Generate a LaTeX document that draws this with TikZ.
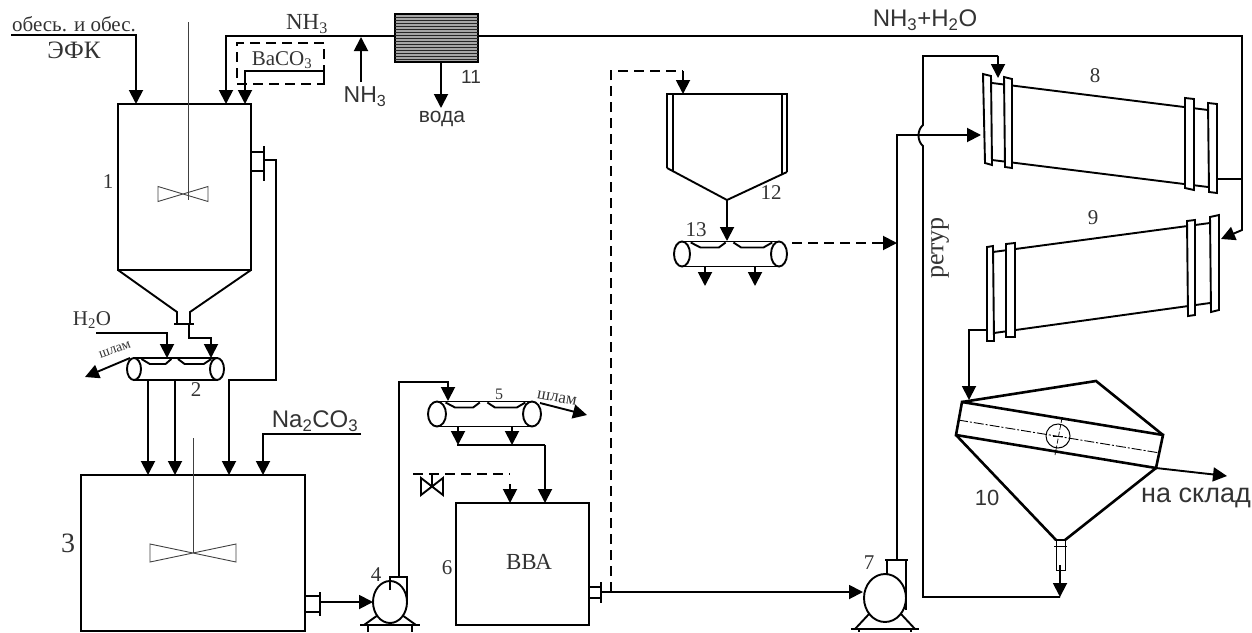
\documentclass[tikz,border=0pt]{standalone}
\usepackage{fontspec}
\setmainfont{Liberation Serif}
\setsansfont{Liberation Sans}
\usetikzlibrary{arrows.meta,shapes.geometric}

\begin{document}
\begin{tikzpicture}[x=1pt, y=-1pt, >={Triangle[length=14pt,width=14pt]},
    pipe/.style={line width=1.9pt},
    flow/.style={pipe,->},
    dashflow/.style={pipe,dash pattern=on 10pt off 6pt},
    thick line/.style={line width=2.6pt},
    vessel/.style={draw,rectangle,line width=2pt,inner sep=0pt,outer sep=0pt},
    drum/.style={draw,ellipse,line width=1.9pt,inner sep=0pt,outer sep=0pt,fill=white},
    blade/.style={line width=0.9pt,black!75},
    num/.style={font=\fontsize{21}{23}\selectfont,text=black!80,inner sep=0pt},
    snum/.style={font=\sffamily\fontsize{22}{24}\selectfont,text=black!80,inner sep=0pt},
    lab/.style={font=\fontsize{21}{23}\selectfont,text=black!80,inner sep=0pt},
    slab/.style={font=\sffamily\fontsize{24}{26}\selectfont,text=black!80,inner sep=0pt},
    slurry/.style={text=black!80,inner sep=0pt}]

    \useasboundingbox (0,0) rectangle (1252,632);

    % Vessels
    \node[vessel, minimum width=133pt, minimum height=166pt] (v1) at (184.5,187) {};
    \node[vessel, minimum width=224pt, minimum height=156pt] (v3) at (193,553) {};
    \node[vessel, minimum width=133pt, minimum height=122pt] (v6) at (522.5,564) {};
    \node[lab,font=\fontsize{23}{25}\selectfont] (bva) at (529,562) {ВВА};

    % Cone and neck of vessel 1
    \draw[pipe] (v1.south west) -- (177,312) -- (177,324);
    \draw[pipe] (v1.south east) -- (190,312) -- (190,324);
    \draw[pipe] (174,324) -- (194,324);

    % Stirrers
    \foreach \sx/\ya/\yb/\cx/\cy/\w/\h in {188/22/200/183/194/25/7.5, 193/438/553/193/553/43/9}
    {
        \draw[blade] (\sx,\ya) -- (\sx,\yb);
        \draw[blade] (\cx-\w,\cy-\h) -- (\cx+\w,\cy+\h) -- (\cx+\w,\cy-\h) -- (\cx-\w,\cy+\h) -- cycle;
    }

    % Washers
    \foreach \n/\xa/\xb/\yy/\rx/\ry in {w2/134/217/369/7/11, w5/437/532/414/9/12.5, w13/682/779/254/8/12.5}
    {
        \node[drum, minimum width=2*\rx pt, minimum height=2*\ry pt] (\n l) at (\xa,\yy) {};
        \node[drum, minimum width=2*\rx pt, minimum height=2*\ry pt] (\n r) at (\xb,\yy) {};
        \draw[pipe] (\n l.north) -- (\n r.north);
        \draw[pipe] (\n l.south) -- (\n r.south);
        \foreach \p/\q/\r/\s in {0.09/0.19/0.38/0.45, 0.53/0.61/0.84/0.93}
        \draw[pipe] ({\xa+\p*(\xb-\xa)},\yy-\ry+1) -- ({\xa+\q*(\xb-\xa)},\yy-\ry+6) -- ({\xa+\r*(\xb-\xa)},\yy-\ry+6) -- ({\xa+\s*(\xb-\xa)},\yy-\ry+1);
    }

    % Pumps
    \foreach \n/\px/\py/\rx/\ry/\base in {p4/390/602/17/21/625, p7/885/598/21/24/629}
    {
        \draw[pipe] (\px-\rx+5,\py+\ry-8) -- (\px-\rx-9,\base);
        \draw[pipe] (\px+\rx-5,\py+\ry-8) -- (\px+\rx+9,\base);
        \draw[thick line] (\px-\rx-13,\base) -- (\px+\rx+13,\base);
        \draw[pipe] (\px-\rx-5,\base) -- (\px-\rx-5,632);
        \draw[pipe] (\px+\rx+5,\base) -- (\px+\rx+5,632);
        \node[drum, minimum width=2*\rx pt, minimum height=2*\ry pt] (\n) at (\px,\py) {};
    }
    \draw[pipe] (390,590) -- (390,577) -- (407,577) -- (407,600);
    \draw[pipe] (887,575) -- (887,560);
    \draw[pipe] (906,610) -- (906,560);
    \draw[pipe] (885,560) -- (908,560);

    % Flanges
    \foreach \xa/\xb/\ya/\yb/\ta/\tb in {251/264/152/171/146/181, 305/320/596/612/592/616, 589/601/587/598/582/603}
    {
        \draw[pipe] (\xa,\ya) -- (\xb,\ya);
        \draw[pipe] (\xa,\yb) -- (\xb,\yb);
        \draw[pipe] (\xb,\ta) -- (\xb,\tb);
    }

    % Heat exchanger
    \node[vessel, minimum width=83pt, minimum height=48pt,fill=black!35] (hx) at (436.5,38) {};
    \foreach \yy in {17,20,...,59}
    \draw[line width=1pt,black!85] (395,\yy) -- (478,\yy);

    % Hopper 12
    \draw[pipe] (667,168) -- (667,94) -- (787,94) -- (787,172);
    \draw[pipe] (673,94) -- (673,172);
    \draw[pipe] (782,94) -- (782,175);
    \draw[pipe] (667,168) -- (727,200) -- (787,172);
    \coordinate (h12) at (727,200);

    % Dryers
    \draw[pipe] (992,83) -- (1208,110);
    \draw[pipe] (992,160) -- (1208,187);
    \draw[pipe] (993,252) -- (1210,223);
    \draw[pipe] (994,333) -- (1210,303);
    \foreach \xa/\ya/\xb/\yb/\xc/\yc/\xd/\yd in {
        983/74/991/76/992/165/985/163, 1004/77/1012/79/1012/168/1005/167,
        1185/98/1194/99/1194/190/1185/188, 1208/103/1217/104/1217/193/1209/192,
        987/247/993/246/994/341/987/341, 1006/244/1015/243/1015/337/1006/337,
        1187/221/1195/220/1195/315/1188/316, 1210/217/1219/215/1219/310/1211/312}
    \draw[pipe,fill=white] (\xa,\ya) -- (\xb,\yb) -- (\xc,\yc) -- (\xd,\yd) -- cycle;

    % Cooler 10
    \coordinate (c1) at (962,402);
    \coordinate (c2) at (1163,435);
    \coordinate (c3) at (1156,468);
    \coordinate (c4) at (956,435);
    \draw[thick line] (c1) -- (c2) -- (c3) -- (c4) -- cycle;
    \draw[thick line] (c1) -- (1096,381) -- (c2);
    \draw[thick line] (c4) -- (1056,540);
    \draw[thick line] (c3) -- (1065,540);
    \draw[pipe] (1055,540) -- (1066,540);
    \draw[line width=0.9pt] (1056,540) -- (1056,570) -- (1065,570) -- (1065,540);
    \draw[line width=0.9pt] (1054,546) -- (1067,546);
    \draw[line width=0.9pt, dash pattern=on 10pt off 2pt on 2pt off 2pt] (958,420) -- (1160,453);
    \node[draw,circle,line width=1pt,minimum size=24pt,inner sep=0pt] (c10) at (1058,436) {};
    \draw[line width=0.7pt, dash pattern=on 5pt off 2pt] (1062,418) -- (1055,455);
    \draw[line width=0.7pt] (1053,436) -- (1063,436);

    % Pipes on top
    \coordinate (efk) at (11,35);
    \coordinate (v1a) at (136,104);
    \coordinate (v1b) at (226,104);
    \coordinate (v1c) at (245,104);
    \coordinate (hxl) at (395,36);
    \coordinate (hxr) at (478,36);
    \coordinate (hxb) at (441,62);
    \coordinate (water) at (441,108);
    \coordinate (nh3a) at (361,82);
    \coordinate (nh3b) at (361,37);
    \draw[flow] (efk) -| (v1a);
    \draw[flow] (hxl) -| (v1b);
    \draw[flow] (nh3a) -- (nh3b);
    \draw[flow] (hxb) -- (water);

    % BaCO3 hopper
    \node[draw,dashflow,minimum width=87pt,minimum height=41pt,inner sep=0pt] (ba) at (280.5,63.5) {};
    \draw[flow] (324,82) -- (324,71) -- (245,71) -- (v1c);

    % NH3+H2O line
    \coordinate (c9) at (1221,239);
    \coordinate (out8) at (1217,179);
    \draw[flow] (hxr) -- (1242,36) -- (1242,230) -- (c9);
    \draw[pipe] (out8) -- (1242,179);

    % Vessel 1 to washer 2 and vessel 3
    \coordinate (h2o) at (96,333);
    \draw[flow] (h2o) -| (w2l.north -| 167,0);
    \draw[flow] (189,325) -- (189,338) -- (211,338) -- (211,358);
    \draw[flow] (130,358) -- (85,377);
    \draw[flow] (148,380) -- (148,475);
    \draw[flow] (175,380) -- (175,475);
    \draw[flow] (264,160) -- (276,160) -- (276,380) -- (229,380) -- (229,475);
    \coordinate (soda) at (361,434);
    \draw[flow] (soda) -- (263,434) -- (263,475);

    % Vessel 3 through pump 4 to washer 5
    \draw[flow] (320,602) -- (p4.west);
    \draw[flow] (399,577) -- (399,382) -- (448,382) -- (448,401);
    \draw[flow] (540,403) -- (587,415);
    \draw[flow] (458,426) -- (458,445);
    \draw[flow] (512,426) -- (512,445);
    \draw[pipe] (457,445) -- (545,445);
    \draw[flow] (545,445) -- (545,503);

    % Water with valve
    \draw[dashflow] (413,474) -- (510,474);
    \draw[flow] (510,484) -- (510,503);
    \draw[pipe] (432,474) -- (432,487);
    \draw[pipe] (421,478) -- (443,495) -- (443,478) -- (421,495) -- cycle;

    % Vessel 6 through pump 7 to dryer 8
    \coordinate (p7in) at (863,592);
    \draw[flow] (601,592) -- (p7in);
    \draw[dashflow] (611,592) -- (611,71) -- (683,71);
    \draw[flow] (683,71) -- (683,94);
    \draw[flow] (h12) -- (727,241);
    \draw[flow] (705,267) -- (705,286);
    \draw[flow] (755,267) -- (755,286);
    \draw[dashflow] (792,243) -- (880,243);
    \draw[flow] (875,243) -- (897,243);
    \draw[flow] (897,560) -- (897,135) -- (981,135);

    % Return line
    \draw[pipe] (1060,597) -- (923,597) -- (923,146) .. controls (917,141) and (917,130) .. (923,125) -- (923,56) -- (998,56);
    \draw[flow] (998,56) -- (998,78);
    \draw[flow] (1060,565) -- (1060,597);

    % Dryer 9 to cooler 10 and product
    \draw[flow] (987,330) -- (969,330) -- (969,400);
    \draw[flow] (c3) -- (1227,476);

    % Labels
    \foreach \t/\xx/\yy in {1/108/182, 2/196/390, 4/376/575, 6/447/568, 7/869/563, 8/1095/76, 9/1093/218, 12/771/193, 13/696/230}
    \node[num] (n\t) at (\xx,\yy) {\t};
    \node[num,font=\fontsize{16}{18}\selectfont] (n5) at (499,394) {5};
    \node[num,font=\fontsize{28}{30}\selectfont] (n3) at (68,543) {3};
    \node[snum] (n10) at (987,498) {10};
    \node[snum,font=\sffamily\fontsize{19}{21}\selectfont] (n11) at (471,77) {11};

    \node[lab] (acid1) at (74,24) {обесь. и обес.};
    \node[lab,font=\fontsize{25}{27}\selectfont] (acid2) at (74,50) {ЭФК};
    \node[lab,font=\fontsize{23}{25}\selectfont] (lnh3a) at (307,24) {NH\textsubscript{3}};
    \node[lab] (lba) at (282,60) {BaCO\textsubscript{3}};
    \node[lab] (lh2o) at (92,320) {H\textsubscript{2}O};
    \node[slab,font=\sffamily\fontsize{23}{25}\selectfont] (lnh3b) at (365,97) {NH\textsubscript{3}};
    \node[slab,font=\sffamily\fontsize{21}{23}\selectfont] (lwater) at (442,119) {вода};
    \node[slab] (lsoda) at (315,421) {Na\textsubscript{2}CO\textsubscript{3}};
    \node[slab] (lvap) at (925,20) {NH\textsubscript{3}+H\textsubscript{2}O};
    \node[slab,font=\sffamily\fontsize{27}{29}\selectfont] (lstore) at (1196,498) {на склад};
    \node[slurry,rotate=20,font=\fontsize{14}{16}\selectfont] (ls1) at (115,350) {шлам};
    \node[slurry,rotate=-10,font=\fontsize{17}{19}\selectfont] (ls2) at (557,398) {шлам};
    \node[lab,rotate=90,font=\fontsize{26}{28}\selectfont] (lret) at (940,248) {ретур};
\end{tikzpicture}
\end{document}
